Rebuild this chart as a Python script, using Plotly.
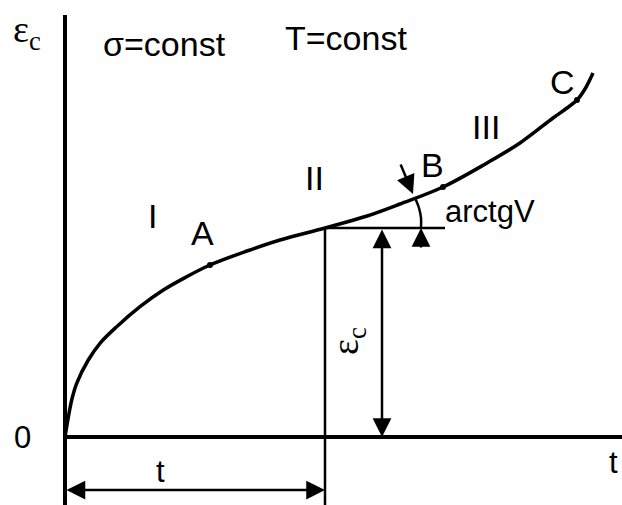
import plotly.graph_objects as go

# creep curve, time t vs creep strain eps_c (arbitrary units)
t_curve = [0.0, 0.017, 0.067, 0.117, 0.233, 0.35, 0.517, 0.75, 0.983, 1.217, 1.45,
           1.82, 2.15, 2.60, 3.02, 3.35, 3.78, 4.22, 4.55, 4.88, 5.02, 5.12, 5.20, 5.28]
eps_curve = [0.0, 0.103, 0.37, 0.537, 0.77, 0.937, 1.103, 1.303, 1.47, 1.603, 1.72,
             1.86, 1.97, 2.09, 2.21, 2.33, 2.50, 2.74, 2.94, 3.19, 3.29, 3.37, 3.48, 3.64]

# marked points A, B, C
pt_names = ["A", "B", "C"]
pt_t = [1.45, 3.78, 5.12]
pt_eps = [1.72, 2.50, 3.37]
pt_label_t = [1.37, 3.67, 4.97]
pt_label_eps = [2.04, 2.72, 3.55]

# chosen time t1 and strain at t1
t1 = 2.60
eps1 = 2.09

# arc showing the slope angle arctgV
arc_t = [3.50, 3.54, 3.56, 3.56]
arc_eps = [2.39, 2.29, 2.19, 2.09]

# stage labels
stage_names = ["I", "II", "III"]
stage_t = [0.87, 2.49, 4.21]
stage_eps = [2.21, 2.59, 3.10]

BLACK = "#000000"
font = dict(family="Liberation Sans, Arial, sans-serif", size=34, color=BLACK)
small = dict(family="Liberation Sans, Arial, sans-serif", size=31, color=BLACK)
serif = dict(family="Liberation Serif, Times New Roman, serif", size=38, color=BLACK)

fig = go.Figure()

# axes drawn as lines
fig.add_trace(go.Scatter(x=[0, 0], y=[-0.70, 4.22], mode="lines",
                         line=dict(color=BLACK, width=4), hoverinfo="skip"))
fig.add_trace(go.Scatter(x=[0, 5.60], y=[0, 0], mode="lines",
                         line=dict(color=BLACK, width=4), hoverinfo="skip"))

# guide lines at t1
fig.add_trace(go.Scatter(x=[t1, t1], y=[-0.70, eps1], mode="lines",
                         line=dict(color=BLACK, width=2.5), hoverinfo="skip"))
fig.add_trace(go.Scatter(x=[t1, 3.80], y=[eps1, eps1], mode="lines",
                         line=dict(color=BLACK, width=2.5), hoverinfo="skip"))

# creep curve
fig.add_trace(go.Scatter(x=t_curve, y=eps_curve, mode="lines",
                         line=dict(color=BLACK, width=3.5, shape="spline", smoothing=1.0),
                         hoverinfo="skip"))
fig.add_trace(go.Scatter(x=pt_t, y=pt_eps, mode="markers",
                         marker=dict(color=BLACK, size=6), hoverinfo="skip"))

# slope arc
fig.add_trace(go.Scatter(x=arc_t, y=arc_eps, mode="lines",
                         line=dict(color=BLACK, width=2.5, shape="spline"), hoverinfo="skip"))

arrow = dict(showarrow=True, text="", xref="x", yref="y", axref="x", ayref="y",
             arrowhead=2, arrowsize=1.5, arrowwidth=2.5, arrowcolor=BLACK)

# eps_c dimension (double arrow)
fig.add_annotation(x=3.17, y=0, ax=3.17, ay=eps1, arrowside="end+start", **arrow)
# t dimension (double arrow)
fig.add_annotation(x=t1, y=-0.53, ax=0, ay=-0.53, arrowside="end+start", **arrow)
# small arrow up to the tangent base
fig.add_annotation(x=3.56, y=eps1, ax=3.56, ay=1.88, **arrow)
# arrow pointing down to the curve
fig.add_annotation(x=3.48, y=2.43, ax=3.35, ay=2.74, **arrow)

texts = [
    ("σ=const", 0.99, 3.93, font),
    ("T=const", 2.81, 3.99, font),
    ("0", -0.43, 0.0, small),
    ("t", 5.48, -0.25, small),
    ("t", 0.95, -0.34, small),
    ("arctgV", 4.25, 2.26, small),
    ("ε<sub>c</sub>", -0.38, 4.05, serif),
]
for txt, x, y, f in texts:
    fig.add_annotation(x=x, y=y, text=txt, showarrow=False, font=f)

for n, x, y in zip(stage_names, stage_t, stage_eps):
    fig.add_annotation(x=x, y=y, text=n, showarrow=False, font=font)

for n, x, y in zip(pt_names, pt_label_t, pt_label_eps):
    fig.add_annotation(x=x, y=y, text=n, showarrow=False, font=font)

# rotated eps_c along the strain dimension
fig.add_annotation(x=2.83, y=0.96, text="ε<sub>c</sub>", showarrow=False,
                   textangle=-90, font=serif)

fig.update_layout(
    width=622, height=505,
    margin=dict(l=0, r=0, t=0, b=0),
    paper_bgcolor="white", plot_bgcolor="white",
    showlegend=False,
    xaxis=dict(range=[-0.65, 5.57], visible=False, fixedrange=True),
    yaxis=dict(range=[-0.68, 4.37], visible=False, fixedrange=True),
)

# drop the default page margin so the figure sits at the window corner
fig.write_html("out.html", config={"displayModeBar": False},
               post_script="document.body.style.margin='0';")
